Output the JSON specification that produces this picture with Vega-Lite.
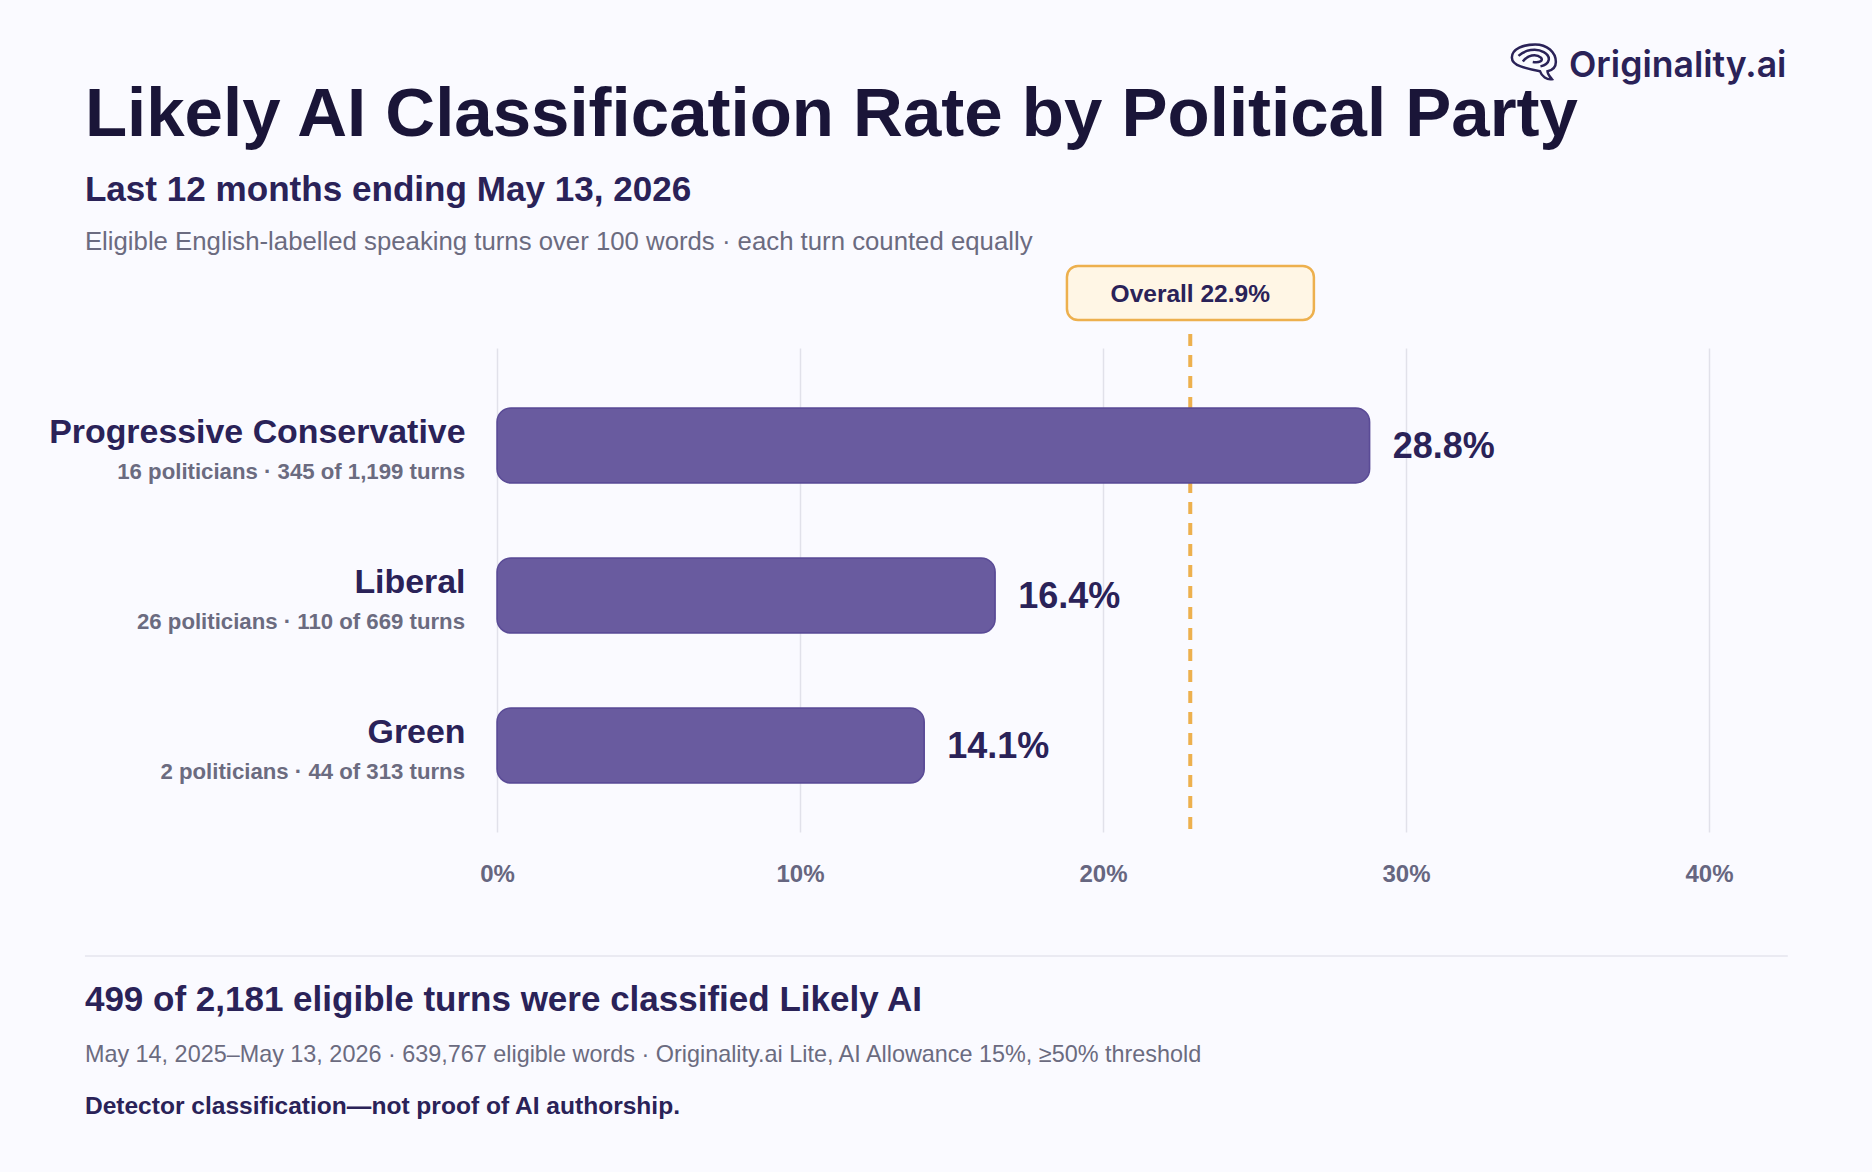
{
  "$schema": "https://vega.github.io/schema/vega-lite/v6.json",
  "width": 1212,
  "height": 484,
  "autosize": {"type": "none"},
  "padding": {"left": 497, "top": 348, "right": 163, "bottom": 340},
  "background": "#fafaff",
  "config": {
    "view": {"stroke": null},
    "font": "Liberation Sans",
    "text": {"align": "left", "baseline": "alphabetic"}
  },
  "datasets": {
    "parties": [
      {"party": "Progressive Conservative", "rate": 0.288, "detail": "16 politicians · 345 of 1,199 turns"},
      {"party": "Liberal", "rate": 0.1644, "detail": "26 politicians · 110 of 669 turns"},
      {"party": "Green", "rate": 0.141, "detail": "2 politicians · 44 of 313 turns"}
    ],
    "overall": [{"rate": 0.2288, "label": "Overall 22.9%"}]
  },
  "resolve": {"scale": {"y": "independent"}},
  "layer": [
    {
      "layer": [
        {
          "data": {"name": "overall"},
          "mark": {"type": "rule", "color": "#edb04e", "strokeWidth": 4, "strokeDash": [12, 9]},
          "encoding": {
            "x": {
              "field": "rate",
              "type": "quantitative",
              "title": null,
              "scale": {"domain": [0, 0.4], "nice": false},
              "axis": {
                "values": [0, 0.1, 0.2, 0.3, 0.4],
                "format": ".0%",
                "domain": false,
                "ticks": false,
                "grid": true,
                "gridColor": "#e1e1ea",
                "gridWidth": 1.5,
                "labelAlign": "center",
                "labelFlush": false,
                "labelPadding": 30,
                "labelFontSize": 24,
                "labelFontWeight": "bold",
                "labelColor": "#666680"
              }
            },
            "y": {"datum": -14, "type": "quantitative", "scale": {"domain": [0, 484], "reverse": true, "nice": false, "zero": false}, "axis": null},
            "y2": {"datum": 486}
          }
        },
        {
          "data": {"name": "overall"},
          "mark": {"type": "rect", "fill": "#fff6e5", "stroke": "#edb04e", "strokeWidth": 2.5, "cornerRadius": 11},
          "encoding": {
            "x": {"datum": 0.1881},
            "x2": {"datum": 0.2696},
            "y": {"datum": -82, "type": "quantitative", "axis": null},
            "y2": {"datum": -28}
          }
        },
        {
          "data": {"name": "overall"},
          "mark": {"type": "text", "align": "center", "fontSize": 24.5, "fontWeight": "bold", "color": "#2a2258"},
          "encoding": {
            "x": {"field": "rate", "type": "quantitative", "title": null},
            "y": {"datum": -46, "type": "quantitative", "axis": null},
            "text": {"field": "label"}
          }
        },
        {
          "data": {"values": [{"line": "Likely AI Classification Rate by Political Party"}]},
          "mark": {"type": "text", "fontSize": 69, "fontWeight": "bold", "color": "#1a1538"},
          "encoding": {
            "x": {"datum": -0.136},
            "y": {"datum": -212, "type": "quantitative", "axis": null},
            "text": {"field": "line"}
          }
        },
        {
          "data": {"values": [{"line": "Last 12 months ending May 13, 2026"}]},
          "mark": {"type": "text", "fontSize": 35.1, "fontWeight": "bold", "color": "#2a2258"},
          "encoding": {
            "x": {"datum": -0.136},
            "y": {"datum": -147, "type": "quantitative", "axis": null},
            "text": {"field": "line"}
          }
        },
        {
          "data": {"values": [{"line": "Eligible English-labelled speaking turns over 100 words · each turn counted equally"}]},
          "mark": {"type": "text", "fontSize": 25.75, "color": "#6b6b80"},
          "encoding": {
            "x": {"datum": -0.136},
            "y": {"datum": -98, "type": "quantitative", "axis": null},
            "text": {"field": "line"}
          }
        },
        {
          "data": {"values": [{"line": "Originality.ai"}]},
          "mark": {"type": "text", "font": "Inter", "fontSize": 35.6, "fontWeight": 600, "color": "#2a2258"},
          "encoding": {
            "x": {"datum": 0.3538},
            "y": {"datum": -271, "type": "quantitative", "axis": null},
            "text": {"field": "line"}
          }
        },
        {
          "data": {"values": [{"line": "logo"}]},
          "mark": {
            "type": "point",
            "filled": false,
            "opacity": 1,
            "stroke": "#2a2258",
            "strokeWidth": 2.5,
            "size": 1936,
            "shape": "M-1,-0.2C-1,-0.6 -0.45,-0.8 0.06,-0.8C0.6,-0.8 1,-0.45 1,0C1,0.25 0.8,0.38 0.62,0.42C0.62,0.55 0.72,0.65 0.82,0.78C0.6,0.82 0.35,0.65 0.28,0.42C-0.1,0.35 -0.3,0.3 -0.6,0.2C-0.85,0.12 -1,0 -1,-0.2ZM-0.7,-0.28C-0.4,-0.55 0.1,-0.65 0.45,-0.45C0.8,-0.25 0.75,0.1 0.3,0.2M-0.5,-0.02C-0.3,-0.32 0.1,-0.4 0.32,-0.2C0.45,-0.05 0.25,0.05 -0.05,0"
          },
          "encoding": {
            "x": {"datum": 0.3422},
            "y": {"datum": -286, "type": "quantitative", "axis": null}
          }
        },
        {
          "data": {"values": [{"line": "divider"}]},
          "mark": {"type": "rule", "color": "#e4e4ee", "strokeWidth": 1.5},
          "encoding": {
            "x": {"datum": -0.136},
            "x2": {"datum": 0.426},
            "y": {"datum": 608, "type": "quantitative", "axis": null}
          }
        },
        {
          "data": {"values": [{"line": "499 of 2,181 eligible turns were classified Likely AI"}]},
          "mark": {"type": "text", "fontSize": 35, "fontWeight": "bold", "color": "#2a2258"},
          "encoding": {
            "x": {"datum": -0.136},
            "y": {"datum": 663, "type": "quantitative", "axis": null},
            "text": {"field": "line"}
          }
        },
        {
          "data": {"values": [{"line": "May 14, 2025–May 13, 2026 · 639,767 eligible words · Originality.ai Lite, AI Allowance 15%, ≥50% threshold"}]},
          "mark": {"type": "text", "fontSize": 23.4, "color": "#6b6b80"},
          "encoding": {
            "x": {"datum": -0.136},
            "y": {"datum": 714, "type": "quantitative", "axis": null},
            "text": {"field": "line"}
          }
        },
        {
          "data": {"values": [{"line": "Detector classification—not proof of AI authorship."}]},
          "mark": {"type": "text", "fontSize": 24.55, "fontWeight": "bold", "color": "#2a2258"},
          "encoding": {
            "x": {"datum": -0.136},
            "y": {"datum": 766, "type": "quantitative", "axis": null},
            "text": {"field": "line"}
          }
        }
      ]
    },
    {
      "data": {"name": "parties"},
      "encoding": {
        "y": {
          "field": "party",
          "type": "nominal",
          "sort": null,
          "title": null,
          "scale": {"paddingInner": 0.5, "paddingOuter": 0.363, "align": 0.55},
          "axis": {
            "domain": false,
            "ticks": false,
            "grid": false,
            "labelPadding": 32,
            "labelOffset": -12,
            "labelFontSize": 33.9,
            "labelFontWeight": "bold",
            "labelColor": "#2a2258",
            "labelLimit": 480
          }
        }
      },
      "layer": [
        {
          "mark": {"type": "bar", "color": "#695b9f", "stroke": "#5a4b96", "strokeWidth": 1.5, "cornerRadius": 14},
          "encoding": {
            "x": {"field": "rate", "type": "quantitative", "title": null}
          }
        },
        {
          "mark": {"type": "text", "dx": 23, "dy": 2, "baseline": "middle", "fontSize": 36, "fontWeight": "bold", "color": "#2a2258"},
          "encoding": {
            "x": {"field": "rate", "type": "quantitative", "title": null},
            "text": {"field": "rate", "type": "quantitative", "format": ".1%"}
          }
        },
        {
          "mark": {"type": "text", "align": "right", "dx": -32, "dy": 27, "baseline": "middle", "fontSize": 22.2, "fontWeight": "bold", "color": "#6b6b80"},
          "encoding": {
            "x": {"datum": 0},
            "text": {"field": "detail"}
          }
        }
      ]
    }
  ]
}
